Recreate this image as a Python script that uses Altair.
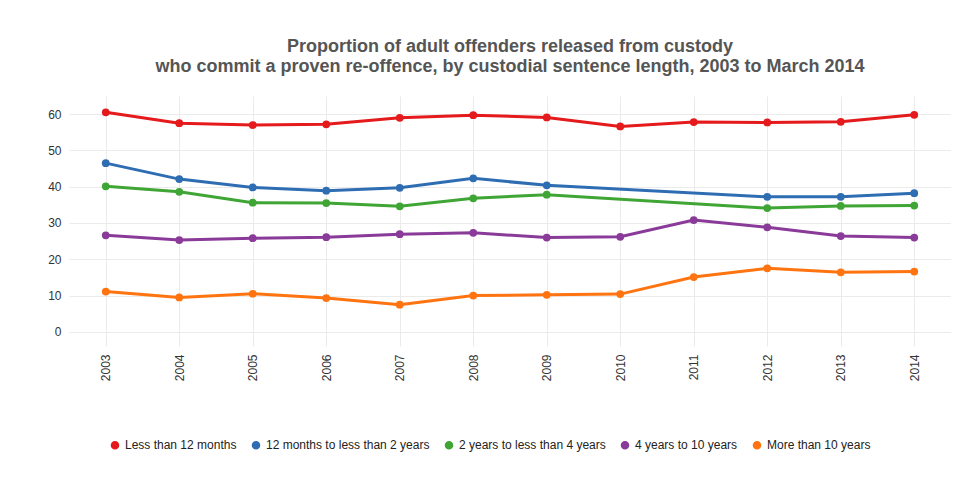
import altair as alt
import pandas as pd

years = list(range(2003, 2015))
series = ['Less than 12 months', '12 months to less than 2 years',
          '2 years to less than 4 years', '4 years to 10 years', 'More than 10 years']
colors = ['#e41a1c', '#2f6db3', '#3fa535', '#8a3a98', '#ff7410']

less_12m = [60.5, 57.5, 57.0, 57.2, 59.0, 59.7, 59.1, 56.6, 57.8, 57.7, 57.9, 59.8]
m12_to_2y = [46.5, 42.1, 39.8, 38.9, 39.7, 42.3, 40.4, None, None, 37.2, 37.2, 38.2]
y2_to_4y = [40.1, 38.6, 35.6, 35.5, 34.6, 36.8, 37.8, None, None, 34.1, 34.7, 34.8]
y4_to_10y = [26.6, 25.3, 25.8, 26.1, 26.9, 27.3, 26.0, 26.2, 30.8, 28.8, 26.4, 26.0]
more_10y = [11.1, 9.5, 10.5, 9.3, 7.5, 10.0, 10.2, 10.4, 15.1, 17.5, 16.4, 16.6]

rows = []
for name, vals in zip(series, [less_12m, m12_to_2y, y2_to_4y, y4_to_10y, more_10y]):
    for yr, v in zip(years, vals):
        if v is not None:
            rows.append({'year': yr, 'value': v, 'group': name})
df = pd.DataFrame(rows)

color = alt.Color('group:N', scale=alt.Scale(domain=series, range=colors),
                  legend=alt.Legend(orient='none', legendX=40, legendY=343, direction='horizontal',
                                    title=None, symbolType='circle', symbolSize=50,
                                    labelFontSize=12, columns=5, labelLimit=300,
                                    labelColor='#222', columnPadding=12))
x = alt.X('year:Q', scale=alt.Scale(domain=[2002.5, 2014.5], nice=False, zero=False),
          axis=alt.Axis(values=years, format='d', labelAngle=-90, title=None, labelFontSize=12,
                        labelColor='#333', domain=False, ticks=False, labelPadding=8))
y = alt.Y('value:Q', scale=alt.Scale(domain=[-3.9, 65], nice=False, zero=False),
          axis=alt.Axis(values=[0, 10, 20, 30, 40, 50, 60], title=None, labelFontSize=12,
                        labelColor='#333', domain=False, ticks=False, labelPadding=8))

base = alt.Chart(df).encode(x=x, y=y, color=color)
chart = (base.mark_line(strokeWidth=3) + base.mark_circle(size=60, opacity=1)).properties(
    width=882, height=250,
    padding={'left': 39, 'top': 30, 'right': 0, 'bottom': 0},
    title=alt.Title(['Proportion of adult offenders released from custody',
                     'who commit a proven re-offence, by custodial sentence length, 2003 to March 2014'],
                    fontSize=18, fontWeight='bold', color='#555', anchor='middle', offset=20)
).configure_view(stroke=None).configure_axis(gridColor='#ebebeb')

chart.save("out.html", embed_options={"renderer": "svg", "actions": False})
